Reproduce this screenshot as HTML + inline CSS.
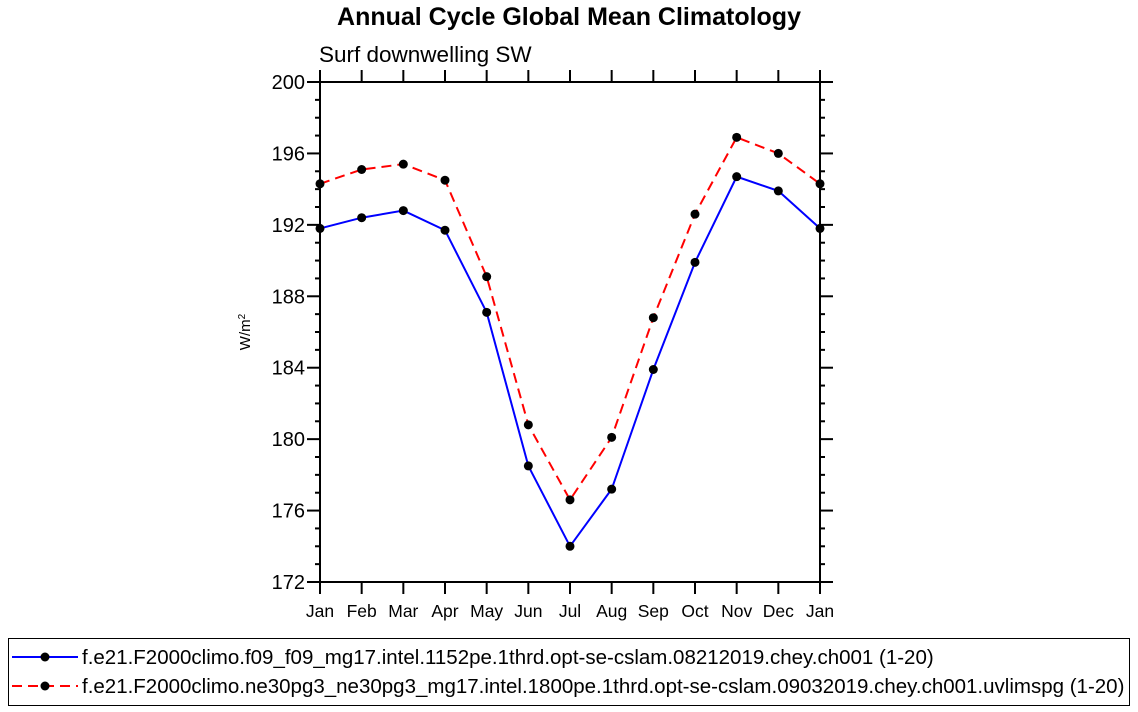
<!DOCTYPE html>
<html><head><meta charset="utf-8"><style>
body{margin:0;background:#fff;}
svg{display:block;font-family:"Liberation Sans",Arial,sans-serif;}
</style></head><body>
<svg id="chart" width="1138" height="712" xmlns="http://www.w3.org/2000/svg">
<text x="569" y="25" text-anchor="middle" font-size="25" font-weight="bold">Annual Cycle Global Mean Climatology</text>
<text x="319" y="62" font-size="22.5">Surf downwelling SW</text>
<text transform="translate(250,332) rotate(-90)" text-anchor="middle" font-size="15">W/m<tspan baseline-shift="super" font-size="10">2</tspan></text>
<g id="axes"></g>
<g id="series"></g>
<rect x="8.5" y="638.5" width="1121" height="67" fill="none" stroke="#000" stroke-width="1"/>
<g id="legend"></g>
</svg>
<script>
const months=["Jan","Feb","Mar","Apr","May","Jun","Jul","Aug","Sep","Oct","Nov","Dec","Jan"];
const blueValues=[191.8,192.4,192.8,191.7,187.1,178.5,174.0,177.2,183.9,189.9,194.7,193.9,191.8];
const redValues=[194.3,195.1,195.4,194.5,189.1,180.8,176.6,180.1,186.8,192.6,196.9,196.0,194.3];
const yTicks=[172,176,180,184,188,192,196,200];
const seriesNames=["f.e21.F2000climo.f09_f09_mg17.intel.1152pe.1thrd.opt-se-cslam.08212019.chey.ch001 (1-20)","f.e21.F2000climo.ne30pg3_ne30pg3_mg17.intel.1800pe.1thrd.opt-se-cslam.09032019.chey.ch001.uvlimspg (1-20)"];

const NS="http://www.w3.org/2000/svg";
const L=320,R=820,T=82,B=582,yMin=172,yMax=200;
const xs=i=>L+(R-L)*i/(months.length-1);
const ys=v=>B-(B-T)*(v-yMin)/(yMax-yMin);
function mk(tag,attrs,parent){const e=document.createElementNS(NS,tag);for(const k in attrs)e.setAttribute(k,attrs[k]);parent.appendChild(e);return e;}
const ax=document.getElementById('axes');
let f=mk('rect',{x:L,y:T,width:R-L,height:B-T,fill:'none',stroke:'#000','stroke-width':2},ax);


months.forEach((m,i)=>{
  const x=xs(i);
  mk('line',{x1:x,x2:x,y1:B,y2:B+12,stroke:'#000','stroke-width':2},ax);
  mk('line',{x1:x,x2:x,y1:T,y2:T-12,stroke:'#000','stroke-width':2},ax);
  const t=mk('text',{x:x,y:B+35,'text-anchor':'middle','font-size':17.5},ax);
  t.textContent=m;
  
  
});
for(let v=yMin;v<=yMax;v++){
  const y=ys(v);const major=yTicks.includes(v);const len=major?13:5;
  mk('line',{x1:L-len,x2:L,y1:y,y2:y,stroke:'#000','stroke-width':2},ax);
  mk('line',{x1:R,x2:R+len,y1:y,y2:y,stroke:'#000','stroke-width':2},ax);
}
yTicks.forEach(v=>{
  const t=mk('text',{x:L-15,y:ys(v)+7,'text-anchor':'end','font-size':20},ax);
  t.textContent=v;
  
  
});
const sg=document.getElementById('series');
function drawSeries(vals,color,dash,name){
  const g=mk('g',{},sg);
  
  
  const pts=vals.map((v,i)=>xs(i)+','+ys(v)).join(' ');
  const a={points:pts,fill:'none',stroke:color,'stroke-width':2};
  if(dash)a['stroke-dasharray']=dash;
  mk('polyline',a,g);
  vals.forEach((v,i)=>{
    const c=mk('circle',{cx:xs(i),cy:ys(v),r:4.5,fill:'#000'},g);
    
    
  });
}
drawSeries(blueValues,'#0000ff',null,'series-blue');
drawSeries(redValues,'#ff0000','10,6','series-red');
const lg=document.getElementById('legend');
[[ '#0000ff',null],['#ff0000','10,6']].forEach((s,i)=>{
  const y=657+i*29;
  const g=mk('g',{},lg);
  
  
  const a={x1:12,x2:78,y1:y,y2:y,stroke:s[0],'stroke-width':2};
  if(s[1])a['stroke-dasharray']=s[1];
  mk('line',a,g);
  mk('circle',{cx:45,cy:y,r:4.5,fill:'#000'},g);
  const t=mk('text',{x:82,y:y+7,'font-size':20.5},g);
  t.textContent=seriesNames[i];
});
</script>
</body></html>
